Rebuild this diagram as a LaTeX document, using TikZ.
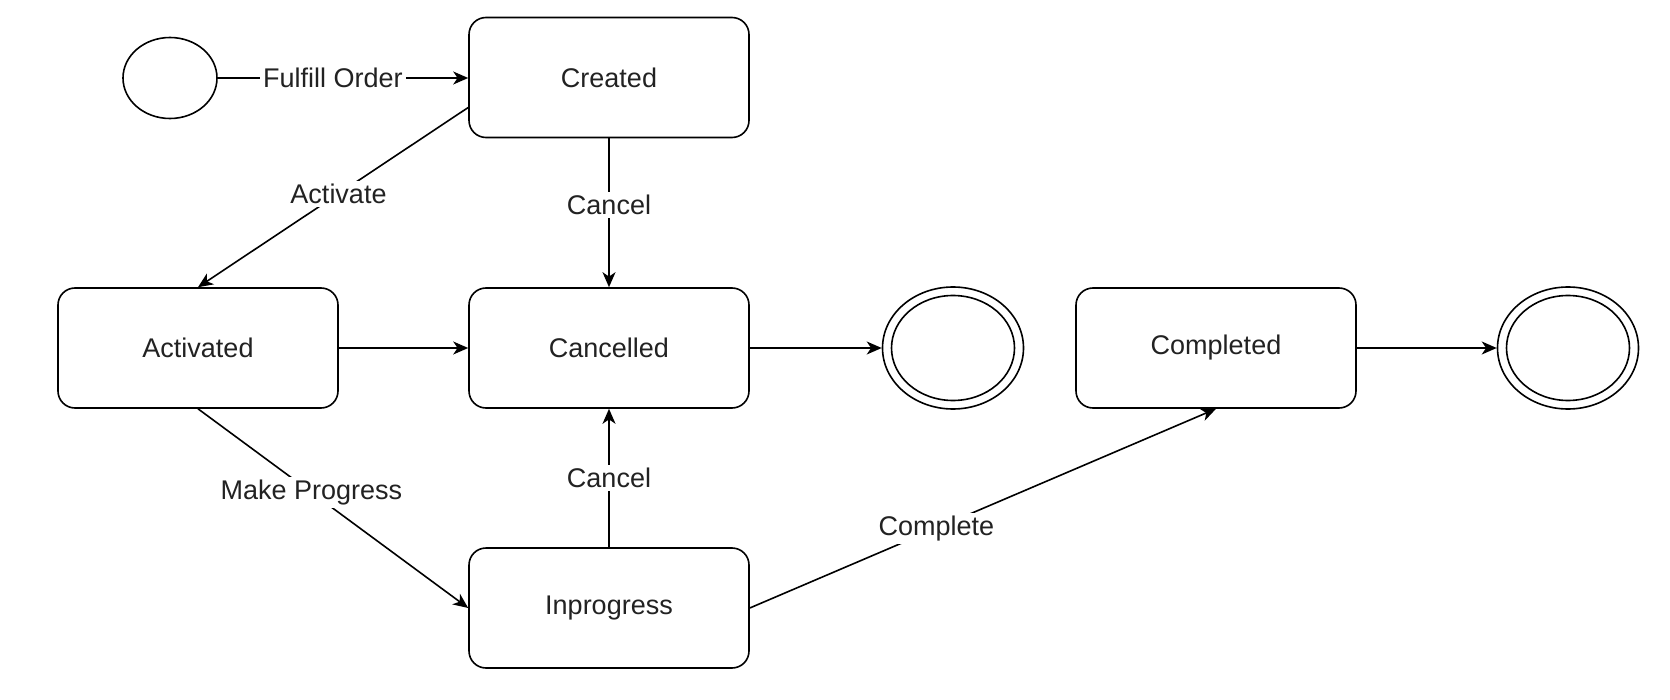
\documentclass[tikz,border=0pt]{standalone}
\usepackage{fontspec}
\setmainfont{Liberation Sans}
\usetikzlibrary{shapes.geometric,arrows.meta}
\definecolor{txt}{HTML}{222222}
\begin{document}
\begin{tikzpicture}[x=0.5pt,y=-0.5pt,
  every node/.style={font=\fontsize{13.5}{16}\selectfont,text=txt},
  state/.style={draw,line width=0.8pt,rounded corners=8.5pt,minimum width=140pt,minimum height=60pt,inner sep=0pt},
  ell/.style={draw,line width=0.8pt,ellipse,inner sep=0pt},
  arr/.style={line width=0.8pt,-{Stealth[length=7.5pt,width=6.5pt,inset=2.2pt]}},
  lbl/.style={fill=white,inner sep=1.5pt}]
\useasboundingbox (0,0) rectangle (1670,700);
\node[ell,minimum width=47pt,minimum height=40.5pt] (init) at (170,78) {};
\node[state] (created) at (609,77.5) {Created};
\node[state] (activated) at (198,348) {Activated};
\node[state] (cancelled) at (609,348) {Cancelled};
\node[state] (inprogress) at (609,608) {Inprogress};
\node[state] (completed) at (1216,348) {Completed};
\node[ell,minimum width=70.5pt,minimum height=61pt] (f1) at (953,348) {};
\node[ell,minimum width=61.5pt,minimum height=52.5pt] (f1i) at (953,348) {};
\node[ell,minimum width=70.5pt,minimum height=61pt] (f2) at (1568,348) {};
\node[ell,minimum width=61.5pt,minimum height=52.5pt] (f2i) at (1568,348) {};
\draw[arr] (init.east) -- node[lbl,pos=0.46] {Fulfill Order} (init.east -| created.west);
\draw[arr] ([yshift=-15pt]created.west) -- node[lbl,pos=0.48] {Activate} (activated.north);
\draw[arr] (created.south) -- node[lbl,pos=0.45] {Cancel} (cancelled.north);
\draw[arr] (activated.east) -- (cancelled.west);
\draw[arr] (cancelled.east) -- (f1.west);
\draw[arr] (activated.south) -- node[lbl,pos=0.42] {Make Progress} (inprogress.west);
\draw[arr] (inprogress.north) -- node[lbl,pos=0.5] {Cancel} (cancelled.south);
\draw[arr] (inprogress.east) -- node[lbl,pos=0.4] {Complete} (completed.south);
\draw[arr] (completed.east) -- (f2.west);
\end{tikzpicture}
\end{document}
